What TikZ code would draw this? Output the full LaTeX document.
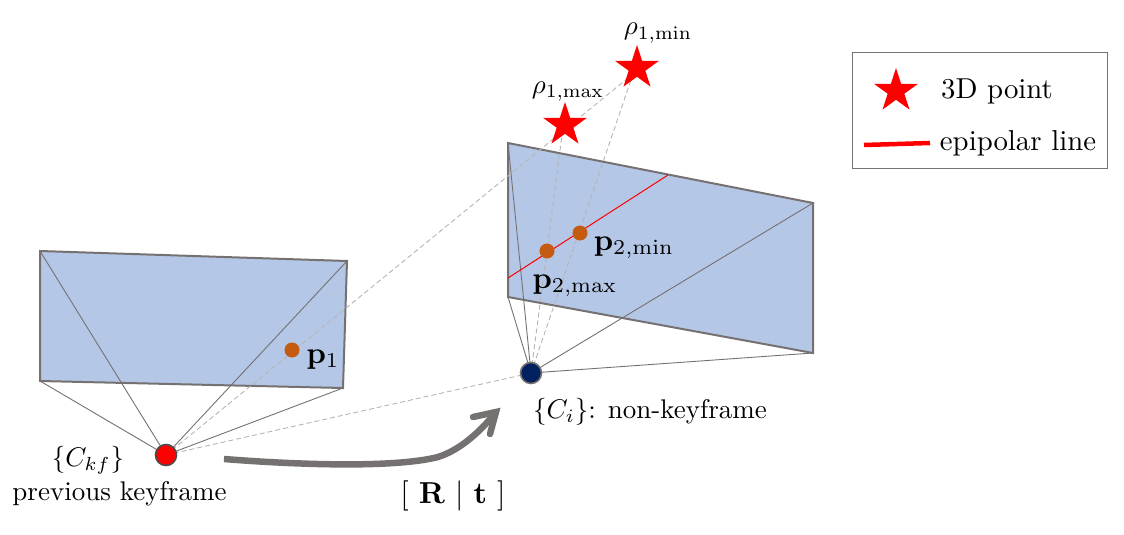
\documentclass[tikz,border=0pt]{standalone}
\usetikzlibrary{shapes.geometric}
\definecolor{planeblue}{HTML}{B4C7E7}
\definecolor{edgegray}{HTML}{767171}
\definecolor{dashgray}{HTML}{B5B5B5}
\definecolor{pointorange}{HTML}{C55A11}
\definecolor{navycam}{HTML}{002060}
\tikzset{
  plane/.style={draw=edgegray,fill=planeblue,line width=2pt,line join=miter},
  frustum/.style={draw=edgegray,line width=0.9pt},
  ray/.style={draw=dashgray,line width=0.9pt,dash pattern=on 5pt off 3pt},
  imgpt/.style={circle,fill=pointorange,minimum size=15pt,inner sep=0pt},
  cam/.style={circle,line width=1.6pt,minimum size=21pt,inner sep=0pt},
  starpt/.style={star,star points=5,star point ratio=2.618,fill=red,minimum size=46pt,inner sep=0pt},
  lbl/.style={scale=2.7,inner sep=0pt,anchor=base},
  lblb/.style={scale=3.03,inner sep=0pt,anchor=base},
  lblg/.style={scale=2.88,inner sep=0pt,anchor=base},
  movearrow/.style={draw=edgegray,line width=6.5pt},
}
\begin{document}
\begin{tikzpicture}[x=1pt,y=-1pt]
\useasboundingbox (0,0) rectangle (1124,535);
% corners
\coordinate (a1) at (40,251); \coordinate (a2) at (347,261);
\coordinate (a3) at (343,388); \coordinate (a4) at (40,381);
\coordinate (b1) at (508,143); \coordinate (b2) at (813,203);
\coordinate (b3) at (813,353); \coordinate (b4) at (508,297);
\coordinate (epA) at (508,278); \coordinate (epB) at (668,175);
\coordinate (camA) at (166,455); \coordinate (camB) at (531,373);
\coordinate (rayEnd) at (628,78);
\coordinate (rayMin) at (631,80);
\coordinate (rayMax) at (562,135);
% planes
\draw[plane] (a1)--(a2)--(a3)--(a4)--cycle;
\draw[plane] (b1)--(b2)--(b3)--(b4)--cycle;
% frustum lines
\foreach \c in {a1,a2,a3,a4} \draw[frustum] (camA)--(\c);
\foreach \c in {b1,b2,b3,b4} \draw[frustum] (camB)--(\c);
% rays
\draw[ray] (camA)--(rayEnd);
\draw[ray] (camA)--(camB);
\draw[ray] (camB)--(rayMin);
\draw[ray] (camB)--(rayMax);
% epipolar
\draw[red,line width=1pt] (epA)--(epB);
% image points
\node[imgpt] (p1) at (292,350) {};
\node[imgpt] (p2max) at (547,251) {};
\node[imgpt] (p2min) at (580,233) {};
% cameras
\node[cam,draw=black!70,fill=red] (ca) at (camA) {};
\node[cam,draw=edgegray,fill=navycam] (cb) at (camB) {};
% stars
\node[starpt] (smax) at (565,125) {};
\node[starpt] (smin) at (637,68) {};
% motion arrow
\coordinate (mvS) at (224,459);
\coordinate (mvE) at (496,412);
\coordinate (barbL) at (473,417);
\coordinate (barbR) at (490,434);
\draw[movearrow] (mvS) .. controls (300,465) and (395,468) .. (438,457) .. controls (460,450) and (480,432) .. (mvE);
\draw[movearrow,line cap=round,line join=miter] (barbL)--(mvE)--(barbR);
% labels
\node[lbl] (lk) at (88,466) {$\{C_{kf}\}$};
\node[lbl] (lp) at (119.5,500) {previous keyframe};
\node[lbl] (lc) at (650,418) {$\{C_i\}$: non-keyframe};
\node[lblb] (lr) at (453,503) {[ $\mathbf{R}$ $|$ $\mathbf{t}$ ]};
\node[lblb] (lp1) at (323,363) {$\mathbf{p}_1$};
\node[lblb] (lp2min) at (634,250) {$\mathbf{p}_{2,\min}$};
\node[lblb] (lp2max) at (575,288) {$\mathbf{p}_{2,\max}$};
\node[lbl] (lrmin) at (658,35) {$\rho_{1,\min}$};
\node[lbl] (lrmax) at (568,93) {$\rho_{1,\max}$};
% legend
\node[draw=edgegray,line width=0.9pt,minimum width=255pt,minimum height=116pt,inner sep=0pt] (legend) at (979.5,110) {};
\node[starpt] (lstar) at (896,91) {};
\node[lblg] (l3d) at (997,98) {3D point};
\coordinate (lgA) at (864,145); \coordinate (lgB) at (930,143);
\draw[red,line width=4.5pt] (lgA)--(lgB);
\node[lblg] (lep) at (1018,150) {epipolar line};
\end{tikzpicture}
\end{document}
